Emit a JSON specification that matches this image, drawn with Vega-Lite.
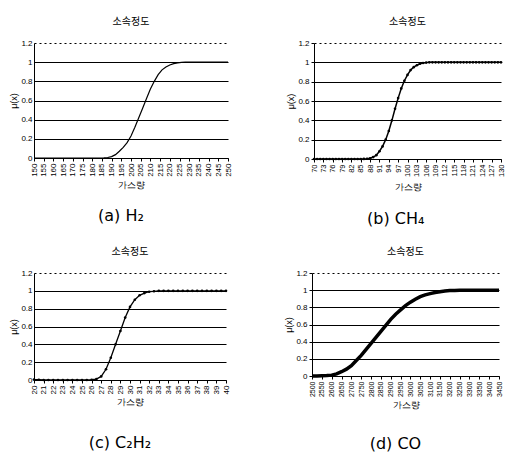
{
  "$schema": "https://vega.github.io/schema/vega-lite/v6.json",
  "background": "white",
  "padding": {"left": 9, "top": 17, "right": 0, "bottom": 4},
  "config": {
    "font": "Liberation Sans",
    "view": {"stroke": null},
    "title": {"font": "Noto Sans CJK KR", "fontSize": 10, "fontWeight": "normal", "color": "black", "offset": 12},
    "axis": {"labelColor": "black", "titleColor": "black", "labelFontSize": 8, "titleFontSize": 9, "titleFontWeight": "normal", "domainColor": "black", "tickColor": "black", "tickSize": 3, "labelOverlap": false},
    "concat": {"spacing": 22}
  },
  "datasets": {
    "a": [
      {"x": 150, "y": 0}, {"x": 184, "y": 0}, {"x": 186, "y": 0.002}, {"x": 188, "y": 0.005}, {"x": 190, "y": 0.015},
      {"x": 192, "y": 0.035}, {"x": 194, "y": 0.07}, {"x": 196, "y": 0.11}, {"x": 198, "y": 0.16}, {"x": 200, "y": 0.23},
      {"x": 202, "y": 0.32}, {"x": 204, "y": 0.42}, {"x": 206, "y": 0.52}, {"x": 208, "y": 0.62}, {"x": 210, "y": 0.72},
      {"x": 212, "y": 0.8}, {"x": 214, "y": 0.87}, {"x": 216, "y": 0.92}, {"x": 218, "y": 0.95}, {"x": 220, "y": 0.97},
      {"x": 222, "y": 0.985}, {"x": 224, "y": 0.993}, {"x": 226, "y": 0.998}, {"x": 228, "y": 1}, {"x": 250, "y": 1}
    ],
    "b": [
      {"x": 70, "y": 0}, {"x": 71, "y": 0}, {"x": 72, "y": 0}, {"x": 73, "y": 0}, {"x": 74, "y": 0}, {"x": 75, "y": 0},
      {"x": 76, "y": 0}, {"x": 77, "y": 0}, {"x": 78, "y": 0}, {"x": 79, "y": 0}, {"x": 80, "y": 0}, {"x": 81, "y": 0},
      {"x": 82, "y": 0}, {"x": 83, "y": 0}, {"x": 84, "y": 0}, {"x": 85, "y": 0}, {"x": 86, "y": 0.001},
      {"x": 87, "y": 0.003}, {"x": 88, "y": 0.008}, {"x": 89, "y": 0.02}, {"x": 90, "y": 0.04}, {"x": 91, "y": 0.08},
      {"x": 92, "y": 0.13}, {"x": 93, "y": 0.2}, {"x": 94, "y": 0.29}, {"x": 95, "y": 0.4}, {"x": 96, "y": 0.52},
      {"x": 97, "y": 0.63}, {"x": 98, "y": 0.73}, {"x": 99, "y": 0.81}, {"x": 100, "y": 0.87}, {"x": 101, "y": 0.92},
      {"x": 102, "y": 0.95}, {"x": 103, "y": 0.97}, {"x": 104, "y": 0.985}, {"x": 105, "y": 0.993}, {"x": 106, "y": 0.997},
      {"x": 107, "y": 1}, {"x": 108, "y": 1}, {"x": 109, "y": 1}, {"x": 110, "y": 1}, {"x": 111, "y": 1}, {"x": 112, "y": 1},
      {"x": 113, "y": 1}, {"x": 114, "y": 1}, {"x": 115, "y": 1}, {"x": 116, "y": 1}, {"x": 117, "y": 1}, {"x": 118, "y": 1},
      {"x": 119, "y": 1}, {"x": 120, "y": 1}, {"x": 121, "y": 1}, {"x": 122, "y": 1}, {"x": 123, "y": 1}, {"x": 124, "y": 1},
      {"x": 125, "y": 1}, {"x": 126, "y": 1}, {"x": 127, "y": 1}, {"x": 128, "y": 1}, {"x": 129, "y": 1}, {"x": 130, "y": 1}
    ],
    "c": [
      {"x": 20, "y": 0.005}, {"x": 20.5, "y": 0.003}, {"x": 21, "y": 0}, {"x": 21.5, "y": 0}, {"x": 22, "y": 0}, {"x": 22.5, "y": 0},
      {"x": 23, "y": 0}, {"x": 23.5, "y": 0}, {"x": 24, "y": 0}, {"x": 24.5, "y": 0}, {"x": 25, "y": 0}, {"x": 25.5, "y": 0},
      {"x": 26, "y": 0.003}, {"x": 26.5, "y": 0.01}, {"x": 27, "y": 0.04}, {"x": 27.5, "y": 0.12}, {"x": 28, "y": 0.25},
      {"x": 28.5, "y": 0.4}, {"x": 29, "y": 0.55}, {"x": 29.5, "y": 0.7}, {"x": 30, "y": 0.82}, {"x": 30.5, "y": 0.9},
      {"x": 31, "y": 0.95}, {"x": 31.5, "y": 0.975}, {"x": 32, "y": 0.99}, {"x": 32.5, "y": 0.995}, {"x": 33, "y": 1},
      {"x": 33.5, "y": 1}, {"x": 34, "y": 1}, {"x": 34.5, "y": 1}, {"x": 35, "y": 1}, {"x": 35.5, "y": 1}, {"x": 36, "y": 1},
      {"x": 36.5, "y": 1}, {"x": 37, "y": 1}, {"x": 37.5, "y": 1}, {"x": 38, "y": 1}, {"x": 38.5, "y": 1}, {"x": 39, "y": 1},
      {"x": 39.5, "y": 1}, {"x": 40, "y": 1}
    ],
    "d": [
      {"x": 2500, "y": 0}, {"x": 2525, "y": 0}, {"x": 2550, "y": 0.002}, {"x": 2575, "y": 0.005}, {"x": 2600, "y": 0.01},
      {"x": 2625, "y": 0.025}, {"x": 2650, "y": 0.05}, {"x": 2675, "y": 0.08}, {"x": 2700, "y": 0.12}, {"x": 2725, "y": 0.18},
      {"x": 2750, "y": 0.24}, {"x": 2775, "y": 0.31}, {"x": 2800, "y": 0.38}, {"x": 2825, "y": 0.45}, {"x": 2850, "y": 0.52},
      {"x": 2875, "y": 0.59}, {"x": 2900, "y": 0.66}, {"x": 2925, "y": 0.72}, {"x": 2950, "y": 0.77}, {"x": 2975, "y": 0.82},
      {"x": 3000, "y": 0.86}, {"x": 3025, "y": 0.895}, {"x": 3050, "y": 0.925}, {"x": 3075, "y": 0.945}, {"x": 3100, "y": 0.96},
      {"x": 3125, "y": 0.972}, {"x": 3150, "y": 0.982}, {"x": 3175, "y": 0.99}, {"x": 3200, "y": 0.995}, {"x": 3225, "y": 0.997},
      {"x": 3250, "y": 0.998}, {"x": 3275, "y": 0.999}, {"x": 3300, "y": 1}, {"x": 3325, "y": 1}, {"x": 3350, "y": 1},
      {"x": 3375, "y": 1}, {"x": 3400, "y": 1}, {"x": 3425, "y": 1}, {"x": 3450, "y": 1}
    ]
  },
  "vconcat": [
    {
      "hconcat": [
        {
          "title": {"text": "(a) H₂", "orient": "bottom", "anchor": "middle", "font": "DejaVu Sans", "fontSize": 16, "offset": 19},
          "vconcat": [
            {
              "title": "소속정도",
              "width": 194, "height": 115,
              "data": {"name": "a"},
              "mark": {"type": "line", "color": "black", "strokeWidth": 1.2},
              "encoding": {
                "x": {"field": "x", "type": "quantitative", "title": "가스량",
                      "scale": {"domain": [150, 250], "nice": false, "zero": false},
                      "axis": {"values": [150,155,160,165,170,175,180,185,190,195,200,205,210,215,220,225,230,235,240,245,250], "format": "d", "labelAngle": 270, "grid": false, "titlePadding": 4}},
                "y": {"field": "y", "type": "quantitative", "title": "μ(x)",
                      "scale": {"domain": [0, 1.2], "nice": false},
                      "axis": {"values": [0,0.2,0.4,0.6,0.8,1,1.2], "format": ".1~f", "gridColor": "black", "gridOpacity": 1,
                               "gridDash": {"condition": {"test": "datum.value > 1.1", "value": [2, 3]}, "value": []},
                               "titlePadding": 2, "tickSize": 0}}
              }
            }
          ]
        },
        {
          "title": {"text": "(b) CH₄", "orient": "bottom", "anchor": "middle", "font": "DejaVu Sans", "fontSize": 16, "offset": 19},
          "vconcat": [
            {
              "title": "소속정도",
              "width": 187, "height": 116,
              "data": {"name": "b"},
              "mark": {"type": "line", "color": "black", "strokeWidth": 1.5, "point": {"filled": true, "size": 7, "color": "black"}},
              "encoding": {
                "x": {"field": "x", "type": "quantitative", "title": "가스량",
                      "scale": {"domain": [70, 130], "nice": false, "zero": false},
                      "axis": {"values": [70,73,76,79,82,85,88,91,94,97,100,103,106,109,112,115,118,121,124,127,130], "format": "d", "labelAngle": 270, "grid": false, "titlePadding": 6, "labelFontSize": 7.5}},
                "y": {"field": "y", "type": "quantitative", "title": "μ(x)",
                      "scale": {"domain": [0, 1.2], "nice": false},
                      "axis": {"values": [0,0.2,0.4,0.6,0.8,1,1.2], "format": ".1~f", "gridColor": "black", "gridOpacity": 1,
                               "gridDash": {"condition": {"test": "datum.value > 1.1", "value": [2, 3]}, "value": []},
                               "titlePadding": 2}}
              }
            }
          ]
        }
      ],
      "spacing": 54
    },
    {
      "hconcat": [
        {
          "title": {"text": "(c) C₂H₂", "orient": "bottom", "anchor": "middle", "font": "DejaVu Sans", "fontSize": 16, "offset": 28},
          "vconcat": [
            {
              "title": "소속정도",
              "width": 192, "height": 107,
              "data": {"name": "c"},
              "mark": {"type": "line", "color": "black", "strokeWidth": 1.3, "point": {"filled": true, "size": 7, "color": "black"}},
              "encoding": {
                "x": {"field": "x", "type": "quantitative", "title": "가스량",
                      "scale": {"domain": [20, 40], "nice": false, "zero": false},
                      "axis": {"values": [20,21,22,23,24,25,26,27,28,29,30,31,32,33,34,35,36,37,38,39,40], "format": "d", "labelAngle": 270, "grid": false, "titlePadding": 4}},
                "y": {"field": "y", "type": "quantitative", "title": "μ(x)",
                      "scale": {"domain": [0, 1.2], "nice": false},
                      "axis": {"values": [0,0.2,0.4,0.6,0.8,1,1.2], "format": ".1~f", "gridColor": "black", "gridOpacity": 1,
                               "gridDash": {"condition": {"test": "datum.value > 1.1", "value": [2, 3]}, "value": []},
                               "titlePadding": 2, "tickSize": 0}}
              }
            }
          ]
        },
        {
          "title": {"text": "(d) CO", "orient": "bottom", "anchor": "middle", "font": "DejaVu Sans", "fontSize": 16, "offset": 26},
          "vconcat": [
            {
              "title": "소속정도",
              "width": 187, "height": 103,
              "data": {"name": "d"},
              "mark": {"type": "line", "color": "black", "strokeWidth": 3.5},
              "encoding": {
                "x": {"field": "x", "type": "quantitative", "title": "가스량",
                      "scale": {"domain": [2500, 3450], "nice": false, "zero": false},
                      "axis": {"values": [2500,2550,2600,2650,2700,2750,2800,2850,2900,2950,3000,3050,3100,3150,3200,3250,3300,3350,3400,3450], "format": "d", "labelAngle": 270, "grid": false, "titlePadding": 4, "labelFontSize": 7}},
                "y": {"field": "y", "type": "quantitative", "title": "μ(x)",
                      "scale": {"domain": [0, 1.2], "nice": false},
                      "axis": {"values": [0,0.2,0.4,0.6,0.8,1,1.2], "format": ".1~f", "gridColor": "black", "gridOpacity": 1,
                               "gridDash": {"condition": {"test": "datum.value > 1.1", "value": [2, 3]}, "value": []},
                               "titlePadding": 2}}
              }
            }
          ]
        }
      ],
      "spacing": 54
    }
  ],
  "spacing": 20
}
